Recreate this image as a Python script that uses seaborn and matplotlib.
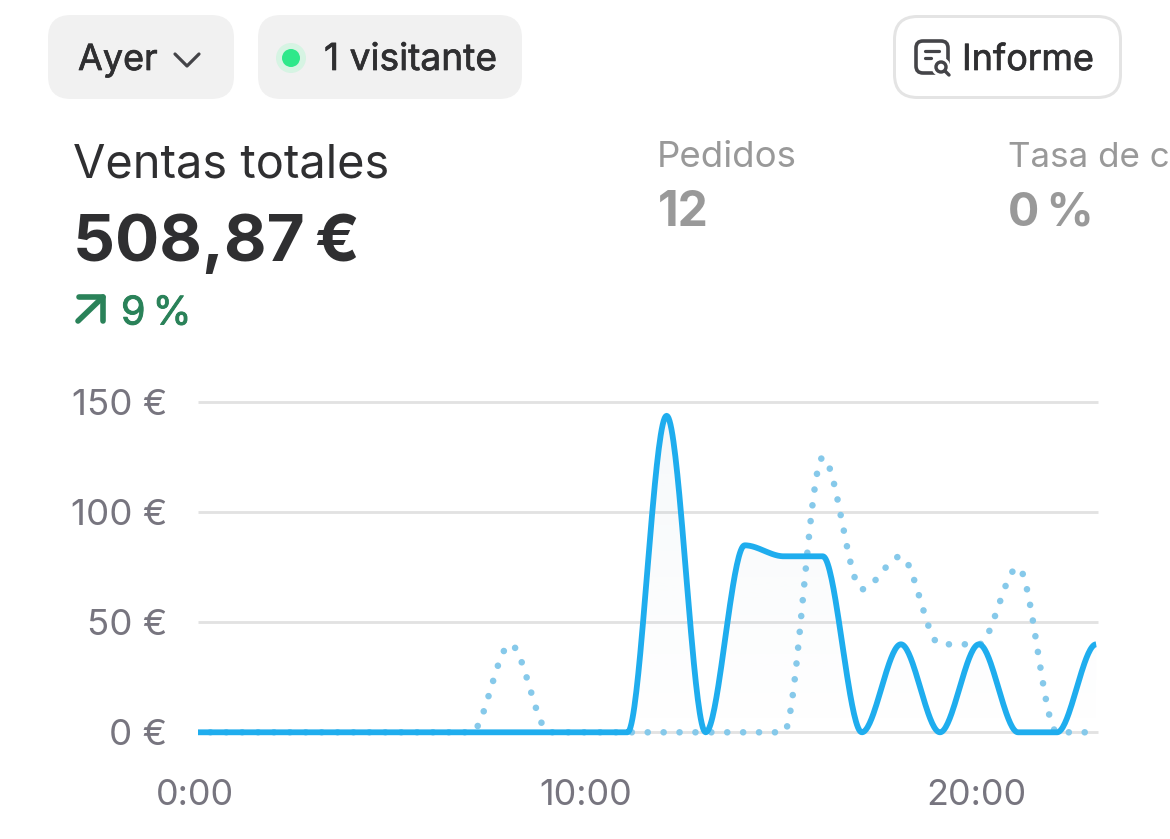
import numpy as np
import pandas as pd
import matplotlib
matplotlib.use("Agg")
import matplotlib.pyplot as plt
import matplotlib.patheffects as pe
from matplotlib.patches import FancyBboxPatch, Circle
from matplotlib.transforms import ScaledTranslation
import seaborn as sns

hours = list(range(24))
ventas_ayer = [0, 0, 0, 0, 0, 0, 0, 0, 0, 0, 0, 0, 143.87, 0, 85, 80, 80, 0, 40, 0, 40, 0, 0, 40]
ventas_previo = [0, 0, 0, 0, 0, 0, 0, 0, 40, 0, 0, 0, 0, 0, 0, 0, 125, 65, 80, 40, 40, 75, 0, 0]
y_ticks = [0, 50, 100, 150]
y_labels = ["0 €", "50 €", "100 €", "150 €"]
x_ticks = [0, 10, 20]
x_labels = ["0:00", "10:00", "20:00"]

W, H = 1170, 839
sns.set_theme(style="white")
plt.rcParams["font.family"] = ["Inter", "DejaVu Sans"]
DARK, GREY, TICK, GREEN = "#2f2f31", "#999999", "#77757f", "#2a8259"
BLUE, DOTBLUE, GRID = "#1fadee", "#86c9ea", "#e2e2e2"

def px(v):
    return v * 72 / 100

def monotone(xs, ys, n=40):
    xs, ys = np.asarray(xs, float), np.asarray(ys, float)
    d = np.diff(ys) / np.diff(xs)
    m = np.zeros_like(ys)
    for i in range(1, len(ys) - 1):
        if d[i - 1] * d[i] > 0:
            m[i] = 2 * d[i - 1] * d[i] / (d[i - 1] + d[i])
    tx, ty = [], []
    for i in range(len(xs) - 1):
        t = np.linspace(0, 1, n, endpoint=False)
        h = xs[i + 1] - xs[i]
        tx.append(xs[i] + t * h)
        ty.append((2*t**3 - 3*t**2 + 1)*ys[i] + (t**3 - 2*t**2 + t)*h*m[i]
                  + (-2*t**3 + 3*t**2)*ys[i + 1] + (t**3 - t**2)*h*m[i + 1])
    return np.r_[np.concatenate(tx), xs[-1]], np.r_[np.concatenate(ty), ys[-1]]

fig = plt.figure(figsize=(W / 100, H / 100), dpi=100, facecolor="white")

# ---- chart
L, R, Y0, Y150 = 198, 1098, 732.3, 402.3
ax = fig.add_axes([L / W, 1 - Y0 / H, (R - L) / W, (Y0 - Y150) / H], facecolor="none")
ax.set_xlim(0, (R - L) / 39.05)
ax.set_ylim(0, 150)
sx, sy = monotone(hours, ventas_ayer)
dx, dy = monotone(hours, ventas_previo)
curve = pd.DataFrame({"hora": sx, "actual": sy, "previo": dy})

ax.set_yticks(y_ticks, y_labels)
ax.set_xticks(x_ticks, x_labels)
ax.grid(axis="y", color=GRID, lw=px(2.8))
ax.grid(axis="x", visible=False)
ax.set_axisbelow(True)
for gl in ax.get_ygridlines():
    gl.set_clip_on(False)
    gl.set_solid_capstyle("butt")
for s in ax.spines.values():
    s.set_visible(False)
ax.tick_params(axis="y", length=0, pad=px(31), labelsize=px(36.8), labelcolor=TICK)
ax.tick_params(axis="x", length=0, pad=px(47), labelsize=px(36), labelcolor=TICK)
shift = ScaledTranslation(-3 / 100, 0, fig.dpi_scale_trans)
for lab in ax.get_xticklabels():
    lab.set_transform(lab.get_transform() + shift)

grad = np.linspace(0.10, 0.0, 256).reshape(-1, 1)
rgba = np.zeros((256, 1, 4))
rgba[..., :3] = matplotlib.colors.to_rgb("#a3bccc")
rgba[..., 3] = grad
im = ax.imshow(rgba, extent=(0, 23, 0, 150), origin="upper", aspect="auto", zorder=1.2)
poly = ax.fill_between(sx, 0, sy, color="none", lw=0)
im.set_clip_path(poly.get_paths()[0], transform=ax.transData)
ax.set_xlim(0, (R - L) / 39.05)
ax.set_ylim(0, 150)

# dot pattern: phase so a dot falls where the reference has one on the baseline
DOT, PERIOD = 6.6, 15.9
arc = np.r_[0, np.cumsum(np.hypot(np.diff(dx) * 39.05, np.diff(dy) * 2.2))]
phase = (-np.interp(11.516, dx, arc)) % PERIOD
sns.lineplot(data=curve, x="hora", y="previo", ax=ax, color=DOTBLUE, lw=px(DOT), sort=False,
             errorbar=None, estimator=None, zorder=3, clip_on=False,
             linestyle=(phase / DOT, (0.01, PERIOD / DOT - 0.01)), dash_capstyle="round")
sns.lineplot(data=curve, x="hora", y="actual", ax=ax, color=BLUE, lw=px(5.8), sort=False,
             errorbar=None, estimator=None, zorder=4, clip_on=False,
             solid_capstyle="butt", solid_joinstyle="round")
ax.set_xlabel("")
ax.set_ylabel("")

# ---- interface elements, in pixel coordinates
ui = fig.add_axes([0, 0, 1, 1], facecolor="none")
ui.set_xlim(0, W)
ui.set_ylim(H, 0)
ui.axis("off")

def chip(x0, y0, x1, y1, r, fc, ec="none", lw=0):
    ui.add_patch(FancyBboxPatch((x0 + r, y0 + r), x1 - x0 - 2 * r, y1 - y0 - 2 * r,
                                boxstyle=f"round,pad={r},rounding_size={r}", fc=fc, ec=ec, lw=lw))

def text(x, y, s, size, color=DARK, weight="normal", ha="left", thicken=0):
    t = ui.text(x, y, s, fontsize=px(size), color=color, fontweight=weight, ha=ha, va="baseline")
    if thicken:
        t.set_path_effects([pe.withStroke(linewidth=px(thicken), foreground=color)])

def stroke(pts, color, w):
    xs, ys = zip(*pts)
    ui.plot(xs, ys, color=color, lw=px(w), solid_capstyle="round", solid_joinstyle="round")

chip(48, 15, 234, 99, 23, "#f1f1f1")
chip(258, 15, 522, 99, 23, "#f1f1f1")
chip(894.5, 16.5, 1120.5, 97.5, 23, "white", "#e4e4e4", px(3))

text(78, 70, "Ayer", 36, thicken=0.7)
stroke([(175, 54), (187, 66), (199, 54)], "#444448", 3.2)
ui.add_patch(Circle((291, 58), 15, fc="#d6f4e3", ec="none"))
ui.add_patch(Circle((291, 58), 9, fc="#2ee88a", ec="none"))
text(324, 70, "1 visitante", 37.2, thicken=0.7)
text(962, 70, "Informe", 36, thicken=0.7)

# report icon
ui.add_patch(FancyBboxPatch((920, 45), 24, 24, boxstyle="round,pad=4,rounding_size=7",
                            fc="white", ec="#444448", lw=px(3.6)))
ui.add_patch(Circle((941, 67), 9.5, fc="white", ec="none"))
ui.add_patch(Circle((941, 67), 5, fc="white", ec="#444448", lw=px(3.4)))
stroke([(945, 71), (949, 75)], "#444448", 3.4)
stroke([(925, 51), (939, 51)], "#444448", 3.2)
stroke([(925, 58), (931, 58)], "#444448", 3.2)

text(73, 177, "Ventas totales", 47)
text(73, 260.5, "508,87\u202f€", 65.6, weight="bold")
stroke([(78, 321), (103, 297)], GREEN, 5.6)
stroke([(79, 297), (103, 297), (103, 321)], GREEN, 5.6)
text(121, 324.5, "9\u202f%", 39.5, GREEN, thicken=0.9)

text(657, 167, "Pedidos", 36.6, GREY)
text(658, 225.5, "12", 48, GREY, "bold")
text(1008, 167, "Tasa de c", 35, GREY)
text(1008, 225.5, "0\u202f%", 46.5, GREY, "bold")

fig.savefig("out.png", dpi=100, facecolor="white")
